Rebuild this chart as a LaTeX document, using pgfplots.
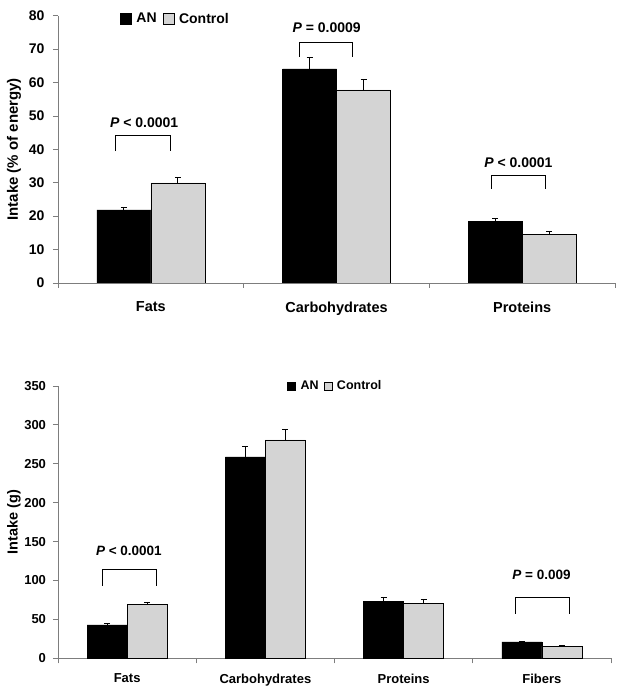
\documentclass[border=0pt]{standalone}
\usepackage{fontspec}
\setmainfont{Liberation Sans}
\usepackage{pgfplots}
\pgfplotsset{compat=1.18}
\definecolor{ctrl}{RGB}{212,212,212}
\definecolor{axgray}{RGB}{125,125,125}
\pgfplotsset{
 mystyle/.style={
  scale only axis, axis x line*=bottom, axis y line*=left,
  axis line style={axgray, line width=0.8pt},
  tick style={axgray, line width=0.8pt},
  tick align=outside, major tick length=5pt,
  ybar=0pt, ymin=0,
  x tick label as interval,
  /pgf/number format/assume math mode=true,
  error bars/y dir=plus, error bars/y explicit,
  error bars/error bar style={black, line width=0.8pt},
  error bars/error mark options={rotate=90, mark size=3pt, black, line width=0.8pt},
  legend style={draw=none, fill=none, legend columns=-1, inner sep=0pt},
 }
}
\begin{document}
\begin{tikzpicture}
\useasboundingbox (0pt,0pt) rectangle (624pt,696pt);
% top chart
\begin{axis}[mystyle, at={(58pt,413pt)}, anchor=south west, width=557pt, height=267.3pt,
  xmin=-0.5, xmax=2.5, ymax=80, ytick={0,10,...,80},
  xtick={-0.5,0.5,1.5,2.5}, xticklabels={Fats,Carbohydrates,Proteins},
  bar width=54pt,
  yticklabel style={font=\fontsize{14}{14}\selectfont\bfseries, xshift=-5pt},
  xticklabel style={font=\fontsize{14.5}{14.5}\selectfont\bfseries, yshift=-10pt},
  ylabel={\bfseries Intake (\% of energy)},
  ylabel style={font=\fontsize{15}{15}\selectfont, at={(axis description cs:-0.079,0.5)}, anchor=center},
  legend style={at={(axis description cs:0.111,0.988)}, anchor=west, font=\fontsize{14}{14}\selectfont\bfseries,
    /tikz/every odd column/.append style={column sep=3pt},
    /tikz/every even column/.append style={column sep=4pt}},
]
\addplot[fill=black, draw=black, legend image code/.code={\draw[fill=black,draw=black] (0pt,-5.5pt) rectangle (11pt,5.5pt);}]
  coordinates {(0,21.9) +- (0,0.8) (1,64.1) +- (0,3.4) (2,18.4) +- (0,0.8)};
\addplot[fill=ctrl, draw=black, legend image code/.code={\draw[fill=ctrl,draw=black] (0pt,-5.5pt) rectangle (11pt,5.5pt);}]
  coordinates {(0,30.0) +- (0,1.5) (1,57.8) +- (0,3.0) (2,14.6) +- (0,0.8)};
\legend{AN, Control}
\draw[black, line width=0.8pt] (axis cs:-0.19,39.5) |- (axis cs:0.105,44.1) -- (axis cs:0.105,39.5);
\draw[black, line width=0.8pt] (axis cs:0.798,67.7) |- (axis cs:1.087,72) -- (axis cs:1.087,67.7);
\draw[black, line width=0.8pt] (axis cs:1.832,28.2) |- (axis cs:2.126,32.1) -- (axis cs:2.126,28.2);
\node[font=\fontsize{14}{14}\selectfont\bfseries] at (axis cs:-0.036,48) {\textit{P} < 0.0001};
\node[font=\fontsize{14}{14}\selectfont\bfseries] at (axis cs:0.947,76.3) {\textit{P} = 0.0009};
\node[font=\fontsize{14}{14}\selectfont\bfseries] at (axis cs:1.98,35.9) {\textit{P} < 0.0001};
\end{axis}
% bottom chart
\begin{axis}[mystyle, at={(58pt,37.7pt)}, anchor=south west, width=553pt, height=272.3pt,
  xmin=-0.5, xmax=3.5, ymax=350, ytick={0,50,...,350},
  xtick={-0.5,0.5,1.5,2.5,3.5}, xticklabels={Fats,Carbohydrates,Proteins,Fibers},
  bar width=40pt,
  yticklabel style={font=\fontsize{13}{13}\selectfont\bfseries, xshift=-3.5pt},
  xticklabel style={font=\fontsize{13}{13}\selectfont\bfseries, yshift=-7pt},
  ylabel={\bfseries Intake (g)},
  ylabel style={font=\fontsize{14.5}{14.5}\selectfont, at={(axis description cs:-0.0796,0.5)}, anchor=center},
  legend style={at={(axis description cs:0.414,1.0)}, anchor=west, font=\fontsize{12.5}{12.5}\selectfont\bfseries,
    /tikz/every odd column/.append style={column sep=3pt},
    /tikz/every even column/.append style={column sep=3pt}},
]
\addplot[fill=black, draw=black, legend image code/.code={\draw[fill=black,draw=black] (0pt,-4pt) rectangle (8pt,4pt);}]
  coordinates {(0,43) +- (0,1.5) (1,259) +- (0,13) (2,73.6) +- (0,4.8) (3,21) +- (0,1.2)};
\addplot[fill=ctrl, draw=black, legend image code/.code={\draw[fill=ctrl,draw=black] (0pt,-4pt) rectangle (8pt,4pt);}]
  coordinates {(0,69) +- (0,3) (1,280.6) +- (0,14) (2,70.7) +- (0,4.6) (3,15.4) +- (0,1.6)};
\legend{AN, Control}
\draw[black, line width=0.8pt] (axis cs:-0.18,93.3) |- (axis cs:0.214,114.4) -- (axis cs:0.214,93.3);
\draw[black, line width=0.8pt] (axis cs:2.812,57) |- (axis cs:3.202,78.4) -- (axis cs:3.202,57);
\node[font=\fontsize{13.5}{13.5}\selectfont\bfseries] at (axis cs:0.013,138) {\textit{P} < 0.0001};
\node[font=\fontsize{13.5}{13.5}\selectfont\bfseries] at (axis cs:2.997,107) {\textit{P} = 0.009};
\end{axis}
\end{tikzpicture}
\end{document}
